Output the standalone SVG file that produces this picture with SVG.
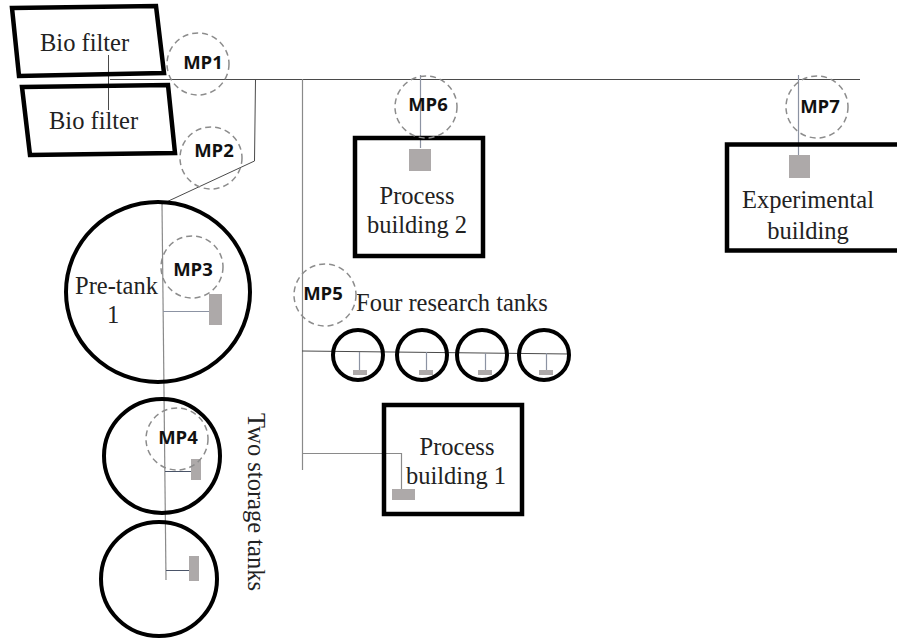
<svg xmlns="http://www.w3.org/2000/svg" width="897" height="639" viewBox="0 0 897 639">
<style>
.box{fill:none;stroke:#000;stroke-width:4.5}
.tank{fill:none;stroke:#000;stroke-width:4}
.mp{fill:none;stroke:#8c8c8c;stroke-width:1.5;stroke-dasharray:6 4}
.pipe{fill:none;stroke:#4a4a4a;stroke-width:1}
.pipeg{fill:none;stroke:#8a8a8a;stroke-width:1.2}
.pipeb{fill:none;stroke:#8c93a3;stroke-width:1.2}
.pipen{fill:none;stroke:#4a5468;stroke-width:1}
.sensor{fill:#ada9a9}
.t{font-family:"Liberation Serif","Times New Roman",serif;font-size:24.5px;fill:#222}
.m{font-family:"Open Sans","Noto Sans",sans-serif;font-weight:700;font-size:18.5px;fill:#111}
</style>
<rect width="897" height="639" fill="#fff"/>
<g id="connectors">
<path class="pipe" d="M110 79.5H860"/>
<path class="pipe" d="M108.500 55V110"/>
<path class="pipe" d="M255.500 79L254.500 161L162 204"/>
<path class="pipeg" d="M162 204L166 580"/>
<path class="pipeb" d="M163 311.500H209"/>
<path class="pipen" d="M165 471.500H191"/>
<path class="pipen" d="M166 570.500H189"/>
<path class="pipeg" d="M302.500 79V470"/>
<path class="pipe" d="M302 351L570 354"/>
<path class="pipeb" d="M359.500 352V370M426.500 352V370M485.500 353V370M546.500 353V370"/>
<path class="pipeg" d="M302 453.500H401.500V490"/>
<path class="pipeb" d="M420.500 75V148"/>
<path class="pipeb" d="M798.500 75V155"/>
</g>
<g id="biofilter1"><polygon class="box" points="12,8 156,6 164,73 19,76"/><text class="t" x="40" y="51">Bio filter</text></g>
<g id="biofilter2"><polygon class="box" points="22,87 168,85 175,153 30,155"/><text class="t" x="49" y="129">Bio filter</text></g>
<g id="pretank1"><ellipse class="tank" cx="158" cy="292" rx="92" ry="90"/><rect class="sensor" x="209" y="294" width="13" height="31"/><text class="t" x="75" y="294">Pre-tank</text><text class="t" x="107" y="323">1</text></g>
<g id="storage1"><ellipse class="tank" cx="162" cy="456" rx="58" ry="57"/><rect class="sensor" x="191" y="459" width="10" height="21"/></g>
<g id="storage2"><ellipse class="tank" cx="159" cy="579" rx="58" ry="57"/><rect class="sensor" x="189" y="556" width="10" height="25"/></g>
<g id="storage-label"><text class="t" transform="translate(248 413) rotate(90)">Two storage tanks</text></g>
<g id="research1"><circle class="tank" cx="358" cy="355" r="25"/><rect class="sensor" x="353" y="370" width="14" height="5"/></g>
<g id="research2"><circle class="tank" cx="422" cy="355" r="25"/><rect class="sensor" x="419" y="370" width="14" height="5"/></g>
<g id="research3"><circle class="tank" cx="482" cy="355" r="25"/><rect class="sensor" x="478" y="370" width="14" height="5"/></g>
<g id="research4"><circle class="tank" cx="544" cy="355" r="25"/><rect class="sensor" x="539" y="370" width="14" height="5"/></g>
<g id="research-label"><text class="t" x="356" y="311">Four research tanks</text></g>
<g id="process1"><rect class="box" x="384" y="405" width="138" height="109"/><rect class="sensor" x="392" y="489" width="23" height="11"/><text class="t" x="457" y="455" text-anchor="middle">Process</text><text class="t" x="456" y="484" text-anchor="middle">building 1</text></g>
<g id="process2"><rect class="box" x="355" y="138" width="128" height="118"/><rect class="sensor" x="409" y="149" width="22" height="22"/><text class="t" x="417" y="204" text-anchor="middle">Process</text><text class="t" x="417" y="233" text-anchor="middle">building 2</text></g>
<g id="experimental"><rect class="box" x="727" y="144.500" width="200" height="106"/><rect class="sensor" x="789" y="155" width="21" height="23"/><text class="t" x="808" y="208" text-anchor="middle">Experimental</text><text class="t" x="808" y="239" text-anchor="middle">building</text></g>
<g id="MP1"><circle class="mp" cx="198" cy="64" r="31"/><text class="m" x="203" y="69" text-anchor="middle">MP1</text></g>
<g id="MP2"><circle class="mp" cx="211" cy="158" r="31"/><text class="m" x="214" y="157" text-anchor="middle">MP2</text></g>
<g id="MP3"><circle class="mp" cx="192" cy="267" r="31"/><text class="m" x="193" y="276" text-anchor="middle">MP3</text></g>
<g id="MP4"><circle class="mp" cx="177" cy="439" r="31"/><text class="m" x="178" y="444" text-anchor="middle">MP4</text></g>
<g id="MP5"><circle class="mp" cx="325" cy="295" r="31"/><text class="m" x="323" y="300" text-anchor="middle">MP5</text></g>
<g id="MP6"><circle class="mp" cx="426" cy="107" r="31"/><text class="m" x="428" y="111" text-anchor="middle">MP6</text></g>
<g id="MP7"><circle class="mp" cx="817" cy="107" r="31"/><text class="m" x="820" y="113" text-anchor="middle">MP7</text></g>
</svg>
